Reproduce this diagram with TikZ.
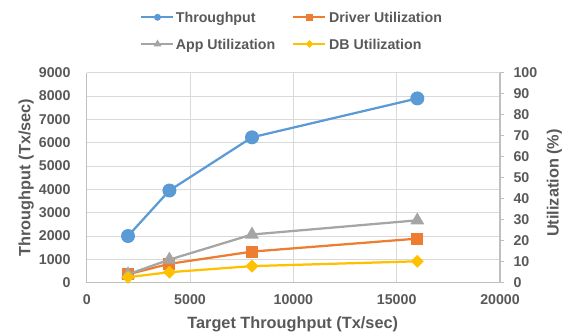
\documentclass[tikz,border=0pt]{standalone}
\usepackage{fontspec}
\setmainfont{Liberation Sans}
\usetikzlibrary{shapes.geometric}
\definecolor{txt}{HTML}{595959}
\definecolor{gridc}{HTML}{D9D9D9}
\definecolor{axc}{HTML}{BFBFBF}
\definecolor{tpblue}{HTML}{5B9BD5}
\definecolor{drvorange}{HTML}{ED7D31}
\definecolor{appgray}{HTML}{A5A5A5}
\definecolor{dbyellow}{HTML}{FFC000}
\begin{document}
\begin{tikzpicture}[x=1pt,y=-1pt,
  ticklabel/.style={font=\fontsize{14.2}{16}\selectfont\bfseries, text=txt, inner sep=0pt},
  axtitle/.style={font=\fontsize{16.3}{18}\selectfont\bfseries, text=txt, inner sep=0pt, anchor=base},
  legtext/.style={font=\fontsize{14.2}{16}\selectfont\bfseries, text=txt, inner sep=0pt, anchor=base west},
  gridline/.style={draw=gridc, line width=1pt},
  axisline/.style={draw=axc, line width=1.5pt},
  series/.style={line width=2.25pt, line join=round},
  tpmark/.style={circle, fill=tpblue, inner sep=0pt, minimum size=14pt},
  drvmark/.style={rectangle, fill=drvorange, inner sep=0pt, minimum size=12pt},
  appmark/.style={regular polygon, regular polygon sides=3, fill=appgray, inner sep=0pt, minimum size=16pt},
  dbmark/.style={diamond, fill=dbyellow, inner sep=0pt, minimum width=13pt, minimum height=13pt},
  tpsmall/.style={circle, fill=tpblue, inner sep=0pt, minimum size=7pt},
  drvsmall/.style={rectangle, fill=drvorange, inner sep=0pt, minimum size=7pt},
  appsmall/.style={regular polygon, regular polygon sides=3, fill=appgray, inner sep=0pt, minimum size=9pt},
  dbsmall/.style={diamond, fill=dbyellow, inner sep=0pt, minimum width=8pt, minimum height=8pt}]
\useasboundingbox (0,0) rectangle (569,333);

% plot frame: x from 0 to 20000, left axis 0..9000, right axis 0..100
\def\xl{86.7}\def\xr{500}\def\yt{72.7}\def\yb{282.7}

% horizontal grid (every 1000 on the left axis)
\foreach \v in {1,...,9}
  \draw[gridline] (\xl,{\yb-\v*23.333}) -- (\xr,{\yb-\v*23.333});
% vertical grid (every 5000)
\foreach \k in {5,10,15}
  \draw[gridline] ({\xl+\k*20.665},\yt) -- ({\xl+\k*20.665},\yb);

% axes
\draw[axisline] (\xl,\yt) -- (\xl,\yb) -- (\xr,\yb);
\draw[axisline] (\xr,\yt) -- (\xr,\yb);
\foreach \p in {0,10,...,100}
  \draw[axisline] (\xr,{\yb-\p*2.1}) -- ({\xr+4},{\yb-\p*2.1});

% tick labels
\foreach \v in {0,1,...,9}
  \node[ticklabel, anchor=east] at (70.7,{\yb-\v*23.333}) {\ifnum\v=0 0\else\v000\fi};
\foreach \p in {0,10,...,100}
  \node[ticklabel, anchor=west] at (513.3,{\yb-\p*2.1}) {\p};
\foreach \k in {0,5,10,15,20}
  \node[ticklabel] at ({\xl+\k*20.665},300) {\ifnum\k=0 0\else\k000\fi};

% axis titles
\node[axtitle, rotate=90] (ytitle) at (30.3,177.5) {Throughput (Tx/sec)};
\node[axtitle, rotate=90] (y2title) at (558.5,183) {Utilization (\%)};
\node[axtitle] (xtitle) at (292.7,328.3) {Target Throughput (Tx/sec)};

% Throughput series
\coordinate (t1) at (128.0,236.0);
\coordinate (t2) at (169.4,190.5);
\coordinate (t3) at (252.0,137.3);
\coordinate (t4) at (417.3,98.4);
\draw[series, tpblue] (t1) -- (t2) -- (t3) -- (t4);
\foreach \n in {t1,t2,t3,t4} \node[tpmark] at (\n) {};

% Driver utilization series
\coordinate (d1) at (128.0,274.3);
\coordinate (d2) at (169.4,263.8);
\coordinate (d3) at (252.0,251.6);
\coordinate (d4) at (417.3,238.6);
\draw[series, drvorange] (d1) -- (d2) -- (d3) -- (d4);
\foreach \n in {d1,d2,d3,d4} \node[drvmark] at (\n) {};

% App utilization series
\coordinate (a1) at (128.0,274.3);
\coordinate (a2) at (169.4,259.6);
\coordinate (a3) at (252.0,234.5);
\coordinate (a4) at (417.3,220.3);
\draw[series, appgray] (a1) -- (a2) -- (a3) -- (a4);
\foreach \n in {a1,a2,a3,a4} \node[appmark] at (\n) {};

% DB utilization series
\coordinate (b1) at (128.0,277.2);
\coordinate (b2) at (169.4,272.2);
\coordinate (b3) at (252.0,266.1);
\coordinate (b4) at (417.3,261.3);
\draw[series, dbyellow] (b1) -- (b2) -- (b3) -- (b4);
\foreach \n in {b1,b2,b3,b4} \node[dbmark] at (\n) {};

% legend
\coordinate (l1a) at (140.7,17.3); \coordinate (l1b) at (172.7,17.3);
\draw[series, tpblue] (l1a) -- (l1b);
\node[tpsmall] (l1m) at (157.5,17.3) {};
\node[legtext] (l1t) at (175.7,22.4) {Throughput};

\coordinate (l2a) at (293.3,17.3); \coordinate (l2b) at (325,17.3);
\draw[series, drvorange] (l2a) -- (l2b);
\node[drvsmall] (l2m) at (309.5,17.3) {};
\node[legtext] (l2t) at (329,22.4) {Driver Utilization};

\coordinate (l3a) at (140.7,44); \coordinate (l3b) at (172.7,44);
\draw[series, appgray] (l3a) -- (l3b);
\node[appsmall] (l3m) at (157.5,44) {};
\node[legtext] (l3t) at (175.7,49.1) {App Utilization};

\coordinate (l4a) at (293.3,44); \coordinate (l4b) at (325,44);
\draw[series, dbyellow] (l4a) -- (l4b);
\node[dbsmall] (l4m) at (309.5,44) {};
\node[legtext] (l4t) at (329,49.1) {DB Utilization};
\end{tikzpicture}
\end{document}
